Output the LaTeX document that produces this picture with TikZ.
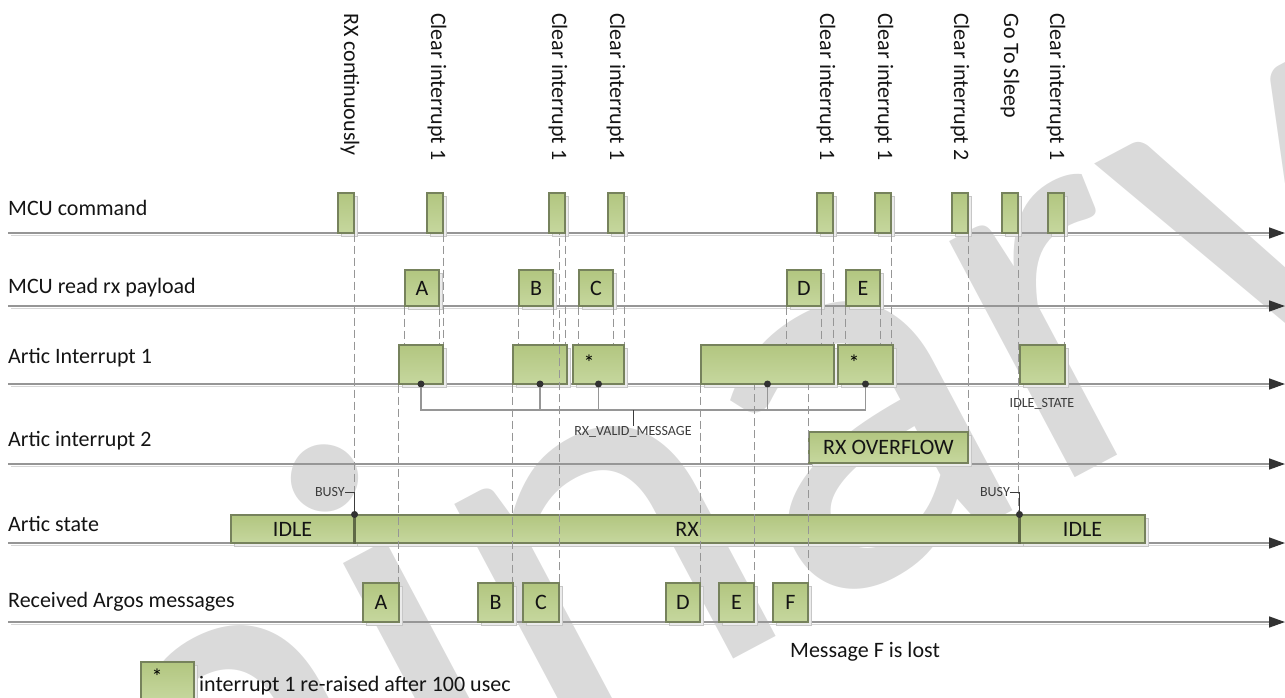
\documentclass[tikz,border=0pt]{standalone}
\usepackage{fontspec}
\setmainfont{Carlito}
\usetikzlibrary{arrows.meta,shadows}
\definecolor{gtop}{RGB}{178,198,128}
\definecolor{gbot}{RGB}{198,215,158}
\definecolor{gborder}{RGB}{118,130,92}
\definecolor{axisc}{RGB}{150,150,150}
\definecolor{axissh}{RGB}{215,215,215}
\definecolor{dashc}{RGB}{150,150,150}
\definecolor{dotc}{RGB}{50,50,50}
\definecolor{sepc}{RGB}{95,105,70}
\definecolor{wmark}{RGB}{218,218,218}
\definecolor{txt}{RGB}{20,20,20}
\definecolor{smalltxt}{RGB}{60,60,60}
\tikzset{
  big/.style={font=\fontsize{22}{24}\selectfont},
  gbox/.style={draw=gborder, line width=1.1pt, top color=gtop, bottom color=gbot,
    inner sep=0pt, big, text=txt,
    drop shadow={shadow xshift=3pt, shadow yshift=-3pt, fill=black!8, draw=black!22, line width=0.8pt, opacity=1}},
  cmdbox/.style={gbox, minimum width=16pt, minimum height=40pt},
  rdbox/.style={gbox, minimum width=34pt, minimum height=36pt},
  msgbox/.style={gbox, minimum width=35pt, minimum height=39pt},
  intbox/.style={gbox, minimum height=39pt},
  stbox/.style={gbox, minimum height=28pt},
  rowlabel/.style={big, anchor=base west, inner sep=0pt, text=txt},
  toplabel/.style={big, rotate=-90, anchor=west, inner sep=0pt, text=txt},
  axisline/.style={draw=axisc, line width=1.5pt, -{Triangle[length=16pt,width=11pt,color=dotc]}},
  axisshadow/.style={draw=axissh, line width=1.5pt},
  guide/.style={draw=dashc, line width=1.1pt, dash pattern=on 8pt off 4pt},
  bracket/.style={draw=axisc, line width=1.5pt},
  dot/.style={circle, fill=dotc, inner sep=0pt, minimum size=7pt},
  callout/.style={draw=smalltxt, line width=0.8pt},
  small/.style={font=\fontsize{14}{15}\selectfont, text=smalltxt, inner sep=0pt},
  sepline/.style={draw=sepc, line width=3pt},
}
\begin{document}
\begin{tikzpicture}[x=1pt,y=-1pt]
\useasboundingbox (0,0) rectangle (1285,697);
% watermark
\begin{scope}
\clip (0,0) rectangle (1285,697);
\node[rotate=28, anchor=base east, text=wmark, font=\fontsize{560}{560}\selectfont, inner sep=0pt] (wm) at (1442,282) {Preliminary};
\end{scope}
% axes
\coordinate (ax1s) at (8,233);  \coordinate (ax1e) at (1285,233);
\coordinate (ax2s) at (8,306);  \coordinate (ax2e) at (1285,306);
\coordinate (ax3s) at (8,384);  \coordinate (ax3e) at (1285,384);
\coordinate (ax4s) at (8,464);  \coordinate (ax4e) at (1285,464);
\coordinate (ax5s) at (8,543);  \coordinate (ax5e) at (1285,543);
\coordinate (ax6s) at (8,622);  \coordinate (ax6e) at (1285,622);
\foreach \n in {1,...,6}{
  \draw[axisshadow] ([shift={(3pt,-2.5pt)}]ax\n s) -- ([shift={(-14pt,-2.5pt)}]ax\n e);
  \draw[axisline] (ax\n s) -- (ax\n e);
}
% row labels
\node[rowlabel] (l1) at (8,215) {MCU command};
\node[rowlabel] (l2) at (8,293) {MCU read rx payload};
\node[rowlabel] (l3) at (8,363) {Artic Interrupt 1};
\node[rowlabel] (l4) at (8,446) {Artic interrupt 2};
\node[rowlabel] (l5) at (8,531) {Artic state};
\node[rowlabel] (l6) at (8,607) {Received Argos messages};
% commands
\node[cmdbox] (c1) at (346,213) {};
\node[cmdbox] (c2) at (435,213) {};
\node[cmdbox] (c3) at (557,213) {};
\node[cmdbox] (c4) at (616,213) {};
\node[cmdbox] (c5) at (825,213) {};
\node[cmdbox] (c6) at (883,213) {};
\node[cmdbox] (c7) at (960,213) {};
\node[cmdbox] (c8) at (1010,213) {};
\node[cmdbox] (c9) at (1056,213) {};
\node[toplabel] (t1) at (350,13) {RX continuously};
\node[toplabel] (t2) at (437,13) {Clear interrupt 1};
\node[toplabel] (t3) at (558,13) {Clear interrupt 1};
\node[toplabel] (t4) at (616,13) {Clear interrupt 1};
\node[toplabel] (t5) at (826,13) {Clear interrupt 1};
\node[toplabel] (t6) at (884,13) {Clear interrupt 1};
\node[toplabel] (t7) at (960,13) {Clear interrupt 2};
\node[toplabel] (t8) at (1010,13) {Go To Sleep};
\node[toplabel] (t9) at (1056,13) {Clear interrupt 1};
% read payload
\node[rdbox] (rA) at (422,288) {A};
\node[rdbox] (rB) at (536,288) {B};
\node[rdbox] (rC) at (596,288) {C};
\node[rdbox] (rD) at (804,288) {D};
\node[rdbox] (rE) at (863,288) {E};
% interrupt 1
\node[intbox, minimum width=44pt] (i1) at (421,364.5) {};
\node[intbox, minimum width=54pt] (i2) at (540,364.5) {};
\node[intbox, minimum width=51pt] (i3) at (598.5,364.5) {};
\node[intbox, minimum width=133pt] (i4) at (767.5,364.5) {};
\node[intbox, minimum width=55pt] (i5) at (865.5,364.5) {};
\node[intbox, minimum width=45pt] (i6) at (1042.5,364.5) {};
\node[big, inner sep=0pt] (s3) at (589,363) {*};
\node[big, inner sep=0pt] (s5) at (854,363) {*};
% interrupt 2
\node[gbox, minimum width=159pt, minimum height=31pt] (ov) at (888.5,447.5) {RX OVERFLOW};
% state
\node[stbox, minimum width=123pt] (sI1) at (292.5,529) {IDLE};
\node[stbox, minimum width=666pt] (sRX) at (687,529) {RX};
\node[stbox, minimum width=125pt] (sI2) at (1082.5,529) {IDLE};
\draw[sepline] (sI1.north east) -- (sI1.south east);
\draw[sepline] (sI2.north west) -- (sI2.south west);
% received
\node[msgbox, minimum width=36pt] (mA) at (381,602.5) {A};
\node[msgbox] (mB) at (495.5,602.5) {B};
\node[msgbox, minimum width=36pt] (mC) at (541,602.5) {C};
\node[msgbox, minimum width=34pt] (mD) at (683,602.5) {D};
\node[msgbox] (mE) at (736.5,602.5) {E};
\node[msgbox] (mF) at (790.5,602.5) {F};
% guides
\draw[guide] (c1.south east) -- (c1.south east |- sI1.north);
\draw[guide] (c2.south east) -- (c2.south east |- i1.north);
\draw[guide] (rA.south west) -- (rA.south west |- i1.north);
\draw[guide] (rA.south east) -- (rA.south east |- i1.north);
\draw[guide] (i1.south west) -- (i1.south west |- mA.north);
\draw[guide] (c3.south east) -- (c3.south east |- i2.north);
\draw[guide] (mC.north east) -- (mC.north east |- c3.south);
\draw[guide] (i2.south west) -- (i2.south west |- mB.north);
\draw[guide] (rB.south west) -- (rB.south west |- i2.north);
\draw[guide] (rB.south east) -- (rB.south east |- i2.north);
\draw[guide] (rC.south west) -- (rC.south west |- i3.north);
\draw[guide] (rC.south east) -- (rC.south east |- i3.north);
\draw[guide] (c4.south east) -- (c4.south east |- i3.north);
\draw[guide] (i4.south west) -- (i4.south west |- mD.north);
\draw[guide] (mE.north east) -- (mE.north east |- i4.south);
\draw[guide] (mF.north east) -- (mF.north east |- i4.south);
\draw[guide] (rD.south west) -- (rD.south west |- i4.north);
\draw[guide] (rD.south east) -- (rD.south east |- i4.north);
\draw[guide] (c5.south east) -- (c5.south east |- i4.north);
\draw[guide] (rE.south west) -- (rE.south west |- i5.north);
\draw[guide] (rE.south east) -- (rE.south east |- i5.north);
\draw[guide] (c6.south east) -- (c6.south east |- i5.north);
\draw[guide] (c7.south east) -- (c7.south east |- ov.north);
\draw[guide] (c8.south east) -- (c8.south east |- sI2.north);
\draw[guide] (c9.south east) -- (c9.south east |- i6.north);
% busy markers
\node[dot] (b1) at (sI1.north east) {};
\node[dot] (b2) at (sI2.north west) {};
\node[small, anchor=east] (busy1) at (345,492) {BUSY};
\draw[callout] (busy1.east) -- (b1 |- busy1.east) -- (b1);
\node[small, anchor=east] (busy2) at (1010,492) {BUSY};
\draw[callout] (busy2.east) -- (b2 |- busy2.east) -- (b2);
% valid message bracket
\coordinate (br) at (0,410);
\node[dot] (d1) at (i1.center |- ax3s) {};
\node[dot] (d2) at (i2.center |- ax3s) {};
\node[dot] (d3) at (i3.center |- ax3s) {};
\node[dot] (d4) at (i4.center |- ax3s) {};
\node[dot] (d5) at (i5.center |- ax3s) {};
\draw[bracket] (d1) -- (d1 |- br) -- (d5 |- br) -- (d5);
\draw[bracket] (d2) -- (d2 |- br);
\draw[bracket] (d3) -- (d3 |- br);
\draw[bracket] (d4) -- (d4 |- br);
\node[small, anchor=north] (rxv) at (633,426) {RX\_VALID\_MESSAGE};
\draw[callout] (rxv.north |- br) -- (rxv.north);
\node[small] (idst) at (1042,404) {IDLE\_STATE};
% notes
\node[big, anchor=base west, inner sep=0pt, text=txt] (lost) at (790,657) {Message F is lost};
\node[gbox, minimum width=53pt, minimum height=38pt] (lg) at (167.5,681) {};
\node[big, inner sep=0pt] (lgs) at (157,677) {*};
\node[big, anchor=base west, inner sep=0pt, text=txt] (lgt) at (199,691) {interrupt 1 re-raised after 100 usec};
\end{tikzpicture}
\end{document}
